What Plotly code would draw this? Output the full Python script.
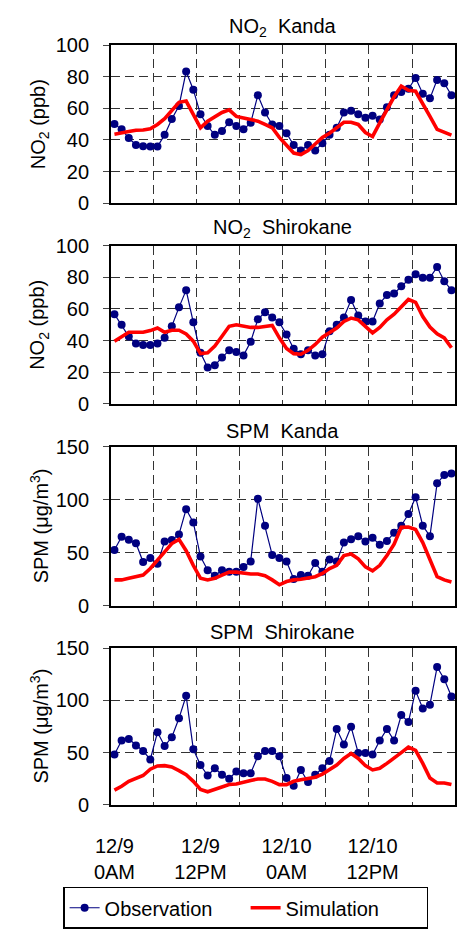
import plotly.graph_objects as go

# ---------------- data ----------------
hours = list(range(48))
tick_hours = [0, 12, 24, 36]
tick_labels = ["12/9<br>0AM", "12/9<br>12PM", "12/10<br>0AM", "12/10<br>12PM"]

panel_titles = ["NO<sub>2</sub>  Kanda", "NO<sub>2</sub>  Shirokane", "SPM  Kanda", "SPM  Shirokane"]
y_titles = ["NO<sub>2</sub> (ppb)", "NO<sub>2</sub> (ppb)", "SPM (μg/m<sup>3</sup>)", "SPM (μg/m<sup>3</sup>)"]
y_max = [100, 100, 150, 150]
y_step = [20, 20, 50, 50]

no2_kanda_obs = [50, 46.7, 41.2, 36.8, 36, 35.8, 35.8, 43.2, 53.3, 61.5, 83.3, 71.8,
                 56.2, 48.8, 43.2, 45.7, 51.2, 48.8, 46.7, 50.8, 68.3, 57.4, 49.8, 48.8,
                 44.2, 36.8, 33.3, 36.8, 33.3, 37.9, 43.2, 47.7, 57.4, 58.4, 56.2, 54.1,
                 55.3, 52.9, 60.7, 68.3, 70.4, 72.4, 79.2, 69.3, 66.3, 78, 75.9, 68.3]
no2_kanda_sim = [43.6, 44.7, 45.3, 46.1, 46.3, 47.1, 49.8, 53.5, 58.6, 63.8, 64.6, 56,
                 47.7, 51.9, 54.9, 57.4, 59, 54.9, 53.9, 52.9, 51.9, 49.8, 47.7, 41.6,
                 36.4, 31.7, 30.7, 33.3, 37.4, 41.6, 44.2, 47.7, 51.2, 51.2, 49.8, 44.7,
                 42.2, 50.8, 59, 67.3, 74.1, 71.4, 70.8, 63.2, 54.9, 46.7, 44.7, 43]

no2_shiro_obs = [56.7, 50, 42.5, 38.1, 37.1, 37.1, 38.1, 41.7, 49, 61, 71.9, 51.5,
                 32.3, 22.9, 24.4, 29.2, 33.8, 32.7, 30.6, 39.2, 53.5, 57.9, 54.6, 51.5,
                 43.8, 34.8, 31.3, 33.8, 30.6, 31.3, 45.8, 50, 54.6, 65.6, 55.8, 52.1,
                 52.1, 63.5, 68.8, 69.8, 74.4, 78.5, 81.9, 79.8, 79.8, 86.5, 77.5, 71.9]
no2_shiro_sim = [39.6, 42.7, 45.2, 45.2, 45.2, 46.3, 47.9, 45.2, 46.5, 46.5, 44.2, 39.6,
                 31.7, 32.3, 36.5, 42.7, 49, 50, 49.4, 48.3, 48.3, 48.8, 49.6, 41.7,
                 35, 31.7, 31.3, 33.8, 37.5, 42.1, 44.8, 47.9, 52.1, 54.2, 53.1, 49,
                 44.8, 48.3, 53.1, 56.7, 61.5, 66, 64.2, 55.2, 48.5, 44.2, 41.7, 35.4]

spm_kanda_obs = [52.6, 65.1, 62.4, 59, 41.3, 45, 39.8, 60.6, 62.1, 67.3, 91.1, 78.6,
                 46.5, 33.6, 28.4, 33.6, 32.1, 32.1, 36.7, 41.9, 100.9, 75.5, 48, 45,
                 41.9, 25.4, 29, 28.4, 40.4, 32.1, 43.7, 41.9, 59.6, 62.7, 65.7, 60.6,
                 64.2, 57.5, 61.2, 68.8, 75.5, 86.5, 102.4, 75.5, 65.7, 115.6, 123.2, 124.8]
spm_kanda_sim = [24.5, 24.5, 26, 27.5, 29, 35.2, 42.8, 50.5, 58.7, 62.7, 52, 38.2,
                 26, 24.5, 26, 29, 31.8, 31.8, 30.6, 30, 30, 28.4, 24.5, 19.9,
                 22.9, 24.5, 25.1, 26, 27.5, 30.6, 35.2, 38.2, 47.4, 48.9, 44.3, 36.7,
                 33, 38.2, 47.4, 58.1, 74, 74.3, 71.9, 59.6, 42.8, 27.5, 24.5, 22.6]

spm_shiro_obs = [48.1, 61.6, 63.1, 56.9, 51.6, 43.4, 69.4, 56.3, 64.7, 82.8, 104.4, 53.1,
                 38.1, 28.1, 35, 28.8, 25, 31.9, 30.3, 30.3, 46.6, 51.6, 51.6, 46.6,
                 25.6, 18.4, 33.4, 21.9, 28.8, 35, 41.9, 72.5, 57.8, 74.7, 49.7, 49.7,
                 48.1, 61.6, 72.5, 61.6, 85.9, 79.4, 109.1, 92.2, 95.9, 131.9, 120.3, 103.8]
spm_shiro_sim = [14.1, 17.8, 22.5, 25, 28.1, 34.1, 37.2, 37.5, 36.3, 32.8, 28.8, 22.5,
                 14.7, 12.5, 14.7, 16.9, 19.4, 20, 21.9, 23.4, 24.7, 24.7, 22.5, 19.4,
                 19.4, 22.5, 24.1, 25, 26.3, 29.4, 33.4, 38.1, 44.4, 49.1, 44.4, 37.5,
                 33.4, 35, 39.7, 44.4, 50, 55.3, 52.2, 39.7, 25.6, 20.9, 20.9, 19.4]

observations = [no2_kanda_obs, no2_shiro_obs, spm_kanda_obs, spm_shiro_obs]
simulations = [no2_kanda_sim, no2_shiro_sim, spm_kanda_sim, spm_shiro_sim]

# ---------------- layout geometry ----------------
W, H = 457, 929
LEFT, RIGHT = 97.7, 456.0
PANELS = [(35.0, 197.0), (240.7, 402.7), (446.7, 610.0), (653.3, 814.0)]
FONT = "Arial, Liberation Sans, sans-serif"
FS = 20
NAVY = "#000080"
RED = "#FF0000"
GRID = "#333333"
DASH = "9px,5px"

fig = go.Figure()
layout = dict(
    width=W, height=H,
    margin=dict(l=0, r=0, t=0, b=0),
    paper_bgcolor="white", plot_bgcolor="white",
    font=dict(family=FONT, size=FS, color="black"),
    showlegend=True,
    legend=dict(orientation="h", x=48 / W, xanchor="left", y=1 - 898 / H, yanchor="top",
                bordercolor="black", borderwidth=1.5, bgcolor="white",
                font=dict(family=FONT, size=FS, color="black"),
                entrywidth=136, itemwidth=30, tracegroupgap=0),
    annotations=[],
)

for i in range(4):
    n = "" if i == 0 else str(i + 1)
    top, bot = PANELS[i]
    dom_y = [1 - bot / H, 1 - top / H]
    fig.add_trace(go.Scatter(
        x=hours, y=observations[i], xaxis="x" + n, yaxis="y" + n,
        mode="lines+markers", name="Observation", showlegend=(i == 0),
        line=dict(color=NAVY, width=1.2),
        marker=dict(color=NAVY, size=8, symbol="circle"),
    ))
    fig.add_trace(go.Scatter(
        x=hours, y=simulations[i], xaxis="x" + n, yaxis="y" + n,
        mode="lines", name="Simulation", showlegend=(i == 0),
        line=dict(color=RED, width=3.6),
    ))
    layout["xaxis" + n] = dict(
        domain=[LEFT / W, RIGHT / W], range=[-0.5, 47.5], anchor="y" + n,
        showline=True, mirror=True, linecolor="black", linewidth=1.5,
        showgrid=False, zeroline=False,
        tickmode="array", tickvals=tick_hours, ticktext=tick_labels,
        showticklabels=(i == 3), ticks="", ticklabelstandoff=22,
        tickfont=dict(family=FONT, size=FS, color="black"),
        minor=dict(tickmode="linear", tick0=5.5, dtick=6, showgrid=True,
                   gridcolor=GRID, gridwidth=1, griddash=DASH, ticks=""),
    )
    layout["yaxis" + n] = dict(
        domain=dom_y, range=[0, y_max[i]], anchor="x" + n,
        tickmode="linear", tick0=0, dtick=y_step[i],
        showline=True, mirror=True, linecolor="black", linewidth=1.5,
        showgrid=True, gridcolor=GRID, gridwidth=1, griddash=DASH,
        zeroline=False, ticks="outside", ticklen=6, tickcolor="#444", tickwidth=1,
        ticklabelstandoff=10,
        tickfont=dict(family=FONT, size=FS, color="black"),
    )
    layout["annotations"].append(dict(
        text=panel_titles[i], xref="paper", yref="paper",
        x=(LEFT + RIGHT) / 2 / W, y=dom_y[1], xanchor="center", yanchor="bottom",
        yshift=3, showarrow=False, font=dict(family=FONT, size=FS, color="black"),
    ))
    layout["annotations"].append(dict(
        text=y_titles[i], xref="paper", yref="paper",
        x=23 / W, y=(dom_y[0] + dom_y[1]) / 2, xanchor="center", yanchor="middle",
        textangle=-90, showarrow=False, font=dict(family=FONT, size=FS, color="black"),
    ))

fig.update_layout(**layout)
fig.write_html("out.html")
